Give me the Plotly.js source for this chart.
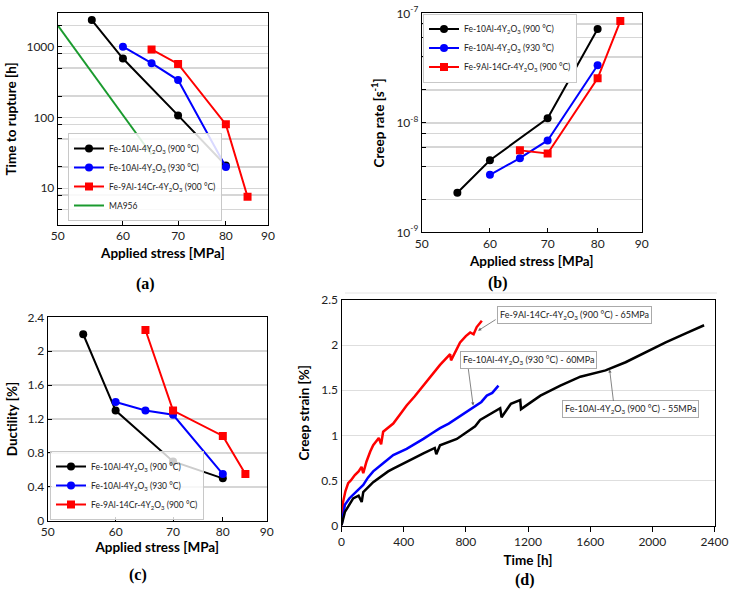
<!DOCTYPE html>
<html>
<head>
<meta charset="utf-8">
<script src="https://cdn.plot.ly/plotly-3.0.1.min.js"></script>
<style>
  html, body { margin: 0; padding: 0; background: #fff; }
  #fig { width: 732px; height: 599px; }
</style>
</head>
<body>
<div id="fig"></div>
<script>
// ===============================
// DATA
// ===============================

// (a) time to rupture vs applied stress
let stressBlackA = [55, 60, 70, 80];
let ruptureBlack = [2380, 680, 107, 21];
let stressBlueA = [60, 65, 70, 80];
let ruptureBlue = [1000, 585, 338, 20];
let stressRedA = [65, 70, 80, 85];
let ruptureRed = [915, 570, 80, 7.6];
let stressMA956 = [50, 65];
let ruptureMA956 = [2000, 30];

// (b) creep rate vs applied stress
let stressBlackB = [55, 60, 70, 80];
let rateBlack = [2.3e-9, 4.55e-9, 1.1e-8, 7.2e-8];
let stressBlueB = [60, 65, 70, 80];
let rateBlue = [3.35e-9, 4.75e-9, 6.9e-9, 3.35e-8];
let stressRedB = [65, 70, 80, 85];
let rateRed = [5.6e-9, 5.25e-9, 2.55e-8, 8.5e-8];

// (c) ductility vs applied stress
let stressBlackC = [55, 60, 70, 80];
let ductBlack = [2.2, 1.3, 0.7, 0.5];
let stressBlueC = [60, 65, 70, 80];
let ductBlue = [1.4, 1.3, 1.25, 0.55];
let stressRedC = [65, 70, 80, 85];
let ductRed = [2.25, 1.3, 1.0, 0.55];

// (d) creep curves (with the visible dips of the noisy records)
let timeRed = [0, 10, 25, 43, 60, 86, 110, 129, 140, 150, 161, 185, 204, 240, 255, 268, 300, 333, 380, 419, 470, 527, 580, 634, 699, 705, 763, 800, 828, 850, 870, 903];
let strainRed = [0, 0.26, 0.38, 0.47, 0.5, 0.56, 0.6, 0.65, 0.58, 0.66, 0.71, 0.82, 0.89, 0.97, 0.9, 1.04, 1.08, 1.13, 1.24, 1.33, 1.43, 1.55, 1.66, 1.78, 1.9, 1.83, 2.03, 2.1, 2.14, 2.12, 2.2, 2.27];
let timeBlue = [0, 22, 50, 75, 110, 140, 170, 204, 268, 333, 419, 470, 527, 580, 634, 690, 742, 790, 849, 900, 935, 970, 1010];
let strainBlue = [0, 0.23, 0.3, 0.34, 0.4, 0.45, 0.53, 0.6, 0.69, 0.78, 0.85, 0.9, 0.96, 1.02, 1.08, 1.13, 1.19, 1.24, 1.31, 1.37, 1.44, 1.47, 1.55];
let timeBlack = [0, 22, 75, 110, 130, 140, 204, 268, 300, 333, 419, 470, 527, 600, 610, 634, 742, 828, 860, 892, 960, 1021, 1030, 1090, 1150, 1155, 1280, 1408, 1537, 1602, 1699, 1828, 1957, 2086, 2215, 2333];
let strainBlack = [0, 0.15, 0.3, 0.33, 0.26, 0.37, 0.48, 0.56, 0.6, 0.63, 0.71, 0.75, 0.8, 0.86, 0.79, 0.89, 0.96, 1.06, 1.1, 1.17, 1.24, 1.3, 1.2, 1.35, 1.39, 1.29, 1.44, 1.55, 1.65, 1.68, 1.72, 1.81, 1.92, 2.03, 2.13, 2.22];

let stressTicks = [50, 60, 70, 80, 90];
let ruptureTicks = [5, 8, 10, 20, 50, 80, 100, 200, 500, 800, 1000, 2000];
let ruptureLabels = ['', '', '10', '', '', '', '100', '', '', '', '1000', ''];
let rateTicks = [1e-9, 2e-9, 4e-9, 6e-9, 8e-9, 1e-8, 2e-8, 4e-8, 6e-8, 8e-8, 1e-7];
let rateLabels = ['10<sup>-9</sup>', '', '', '', '', '10<sup>-8</sup>', '', '', '', '', '10<sup>-7</sup>'];
let ductTicks = [0, 0.4, 0.8, 1.2, 1.6, 2, 2.4];
let timeTicks = [0, 400, 800, 1200, 1600, 2000, 2400];
let strainTicks = [0, 0.5, 1, 1.5, 2, 2.5];

let names = [
    'Fe-10Al-4Y<sub>2</sub>O<sub>3</sub> (900 °C)',
    'Fe-10Al-4Y<sub>2</sub>O<sub>3</sub> (930 °C)',
    'Fe-9Al-14Cr-4Y<sub>2</sub>O<sub>3</sub> (900 °C)',
    'MA956'
];

// ===============================
// STYLE HELPERS
// ===============================

const W = 732, H = 599;
const FONT = 'Lato, "Open Sans", sans-serif';
const BLACK = '#000000', BLUE = '#0000ff', RED = '#ff0000', GREEN = '#1a9a2e';

function px(x) { return x / W; }
function py(y) { return 1 - y / H; }

function series(x, y, color, symbol, name, xa, ya, legend) {
    return {
        x: x, y: y, type: 'scatter', mode: 'lines+markers',
        name: name, xaxis: xa, yaxis: ya, legend: legend,
        line: { color: color, width: 2 },
        marker: { color: color, symbol: symbol, size: 8 }
    };
}

function boxAxis(extra) {
    let base = {
        showline: true, linecolor: '#000', linewidth: 1, mirror: true,
        showgrid: true, gridcolor: '#d6d6d6', gridwidth: 1.5,
        zeroline: false, ticks: 'inside', ticklen: 4, tickcolor: '#000',
        tickfont: { family: FONT, size: 12, color: '#222' },
        fixedrange: true
    };
    return Object.assign(base, extra);
}

function axTitle(text, standoff) {
    return { text: '<b>' + text + '</b>', font: { family: FONT, size: 13.5, color: '#000' }, standoff: standoff };
}

// ===============================
// TRACES
// ===============================

let traces = [
    series(stressBlackA, ruptureBlack, BLACK, 'circle', names[0], 'x', 'y', 'legend'),
    series(stressBlueA, ruptureBlue, BLUE, 'circle', names[1], 'x', 'y', 'legend'),
    series(stressRedA, ruptureRed, RED, 'square', names[2], 'x', 'y', 'legend'),
    {
        x: stressMA956, y: ruptureMA956, type: 'scatter', mode: 'lines',
        name: names[3], xaxis: 'x', yaxis: 'y', legend: 'legend',
        line: { color: GREEN, width: 2 }
    },

    series(stressBlackB, rateBlack, BLACK, 'circle', names[0], 'x2', 'y2', 'legend2'),
    series(stressBlueB, rateBlue, BLUE, 'circle', names[1], 'x2', 'y2', 'legend2'),
    series(stressRedB, rateRed, RED, 'square', names[2], 'x2', 'y2', 'legend2'),

    series(stressBlackC, ductBlack, BLACK, 'circle', names[0], 'x3', 'y3', 'legend3'),
    series(stressBlueC, ductBlue, BLUE, 'circle', names[1], 'x3', 'y3', 'legend3'),
    series(stressRedC, ductRed, RED, 'square', names[2], 'x3', 'y3', 'legend3')
];

[[timeRed, strainRed, RED], [timeBlue, strainBlue, BLUE], [timeBlack, strainBlack, BLACK]].forEach(function (s) {
    traces.push({
        x: s[0], y: s[1], type: 'scatter', mode: 'lines',
        xaxis: 'x4', yaxis: 'y4', showlegend: false,
        line: { color: s[2], width: 2.5 }
    });
});

// ===============================
// LAYOUT
// ===============================

function legendBox(x, y, yanchor, bg) {
    return {
        x: x, y: y, xanchor: 'left', yanchor: yanchor,
        bgcolor: bg, bordercolor: '#c8c8c8', borderwidth: 1,
        font: { family: FONT, size: 8.5, color: '#222' },
        itemwidth: 30, tracegroupgap: 0
    };
}

function arrowNote(x, y, ax, ay) {
    return {
        x: x, y: y, xref: 'x4', yref: 'y4', text: '', showarrow: true,
        ax: ax, ay: ay, arrowhead: 2, arrowsize: 0.8, arrowwidth: 0.8, arrowcolor: '#666'
    };
}

function textNote(x, y, text) {
    return {
        x: x, y: y, xref: 'x4', yref: 'y4', text: text, showarrow: false,
        bgcolor: '#fff', bordercolor: '#aaa', borderwidth: 1, borderpad: 2,
        font: { family: FONT, size: 9, color: '#222' }
    };
}

function panelLabel(x, y, t) {
    return {
        x: px(x), y: py(y), xref: 'paper', yref: 'paper', showarrow: false,
        xanchor: 'center', yanchor: 'middle',
        text: '<b>' + t + '</b>', font: { family: '"Liberation Serif", serif', size: 16, color: '#000' }
    };
}

let layout = {
    width: W, height: H, autosize: false,
    margin: { l: 0, r: 0, t: 0, b: 0 },
    paper_bgcolor: '#fff', plot_bgcolor: '#fff',
    font: { family: FONT, color: '#222' },

    xaxis: boxAxis({
        domain: [px(57.7), px(268)], anchor: 'y', type: 'log',
        range: [Math.log10(50), Math.log10(90)], tickvals: stressTicks, showgrid: false,
        title: axTitle('Applied stress [MPa]', 6)
    }),
    yaxis: boxAxis({
        domain: [py(225), py(12.7)], anchor: 'x', type: 'log',
        range: [Math.log10(3.03), Math.log10(3020)], tickvals: ruptureTicks, ticktext: ruptureLabels,
        title: axTitle('Time to rupture [h]', 6)
    }),

    xaxis2: boxAxis({
        domain: [px(421.7), px(641.7)], anchor: 'y2', type: 'log',
        range: [Math.log10(50), Math.log10(90)], tickvals: stressTicks, showgrid: false,
        title: axTitle('Applied stress [MPa]', 6)
    }),
    yaxis2: boxAxis({
        domain: [py(232.3), py(13.3)], anchor: 'x2', type: 'log',
        range: [-9, -7], tickvals: rateTicks, ticktext: rateLabels,
        title: axTitle('Creep rate [s<sup>-1</sup>]', 8)
    }),

    xaxis3: boxAxis({
        domain: [px(47.7), px(266.7)], anchor: 'y3', type: 'log',
        range: [Math.log10(50), Math.log10(90)], tickvals: stressTicks, showgrid: false,
        title: axTitle('Applied stress [MPa]', 4)
    }),
    yaxis3: boxAxis({
        domain: [py(520.7), py(317.3)], anchor: 'x3',
        range: [0, 2.4], tickvals: ductTicks,
        title: axTitle('Ductility [%]', 6)
    }),

    xaxis4: boxAxis({
        domain: [px(341.5), px(714.5)], anchor: 'y4',
        range: [0, 2400], tickvals: timeTicks, showgrid: false,
        ticks: 'outside', ticklen: 5,
        title: axTitle('Time [h]', 7)
    }),
    yaxis4: boxAxis({
        domain: [py(525.5), py(300)], anchor: 'x4',
        range: [0, 2.5], tickvals: strainTicks, gridcolor: '#dedede', gridwidth: 1,
        ticks: '',
        title: axTitle('Creep strain [%]', 8)
    }),

    legend: legendBox(px(68), py(221), 'bottom', 'rgba(255,255,255,0.85)'),
    legend2: legendBox(px(423), py(13.5), 'top', '#fff'),
    legend3: legendBox(px(50), py(520), 'bottom', 'rgba(255,255,255,0.8)'),

    annotations: [
        textNote(1501, 2.33, 'Fe-9Al-14Cr-4Y<sub>2</sub>O<sub>3</sub> (900 °C) - 65MPa'),
        textNote(1205, 1.83, 'Fe-10Al-4Y<sub>2</sub>O<sub>3</sub> (930 °C) - 60MPa'),
        textNote(1858, 1.29, 'Fe-10Al-4Y<sub>2</sub>O<sub>3</sub> (900 °C) - 55MPa'),
        arrowNote(879, 2.16, 19, -12),
        arrowNote(847, 1.33, -5, -38),
        arrowNote(1725, 1.73, 4, 33),
        panelLabel(145, 284, '(a)'),
        panelLabel(498, 283, '(b)'),
        panelLabel(138, 575, '(c)'),
        panelLabel(525, 580, '(d)')
    ],

    shapes: [
        {
            type: 'line', xref: 'paper', yref: 'paper',
            x0: px(345), x1: px(717), y0: py(293), y1: py(293),
            line: { color: '#e4e4e4', width: 1 }
        }
    ]
};

Plotly.newPlot('fig', traces, layout, { displayModeBar: false, staticPlot: true });
</script>
</body>
</html>
